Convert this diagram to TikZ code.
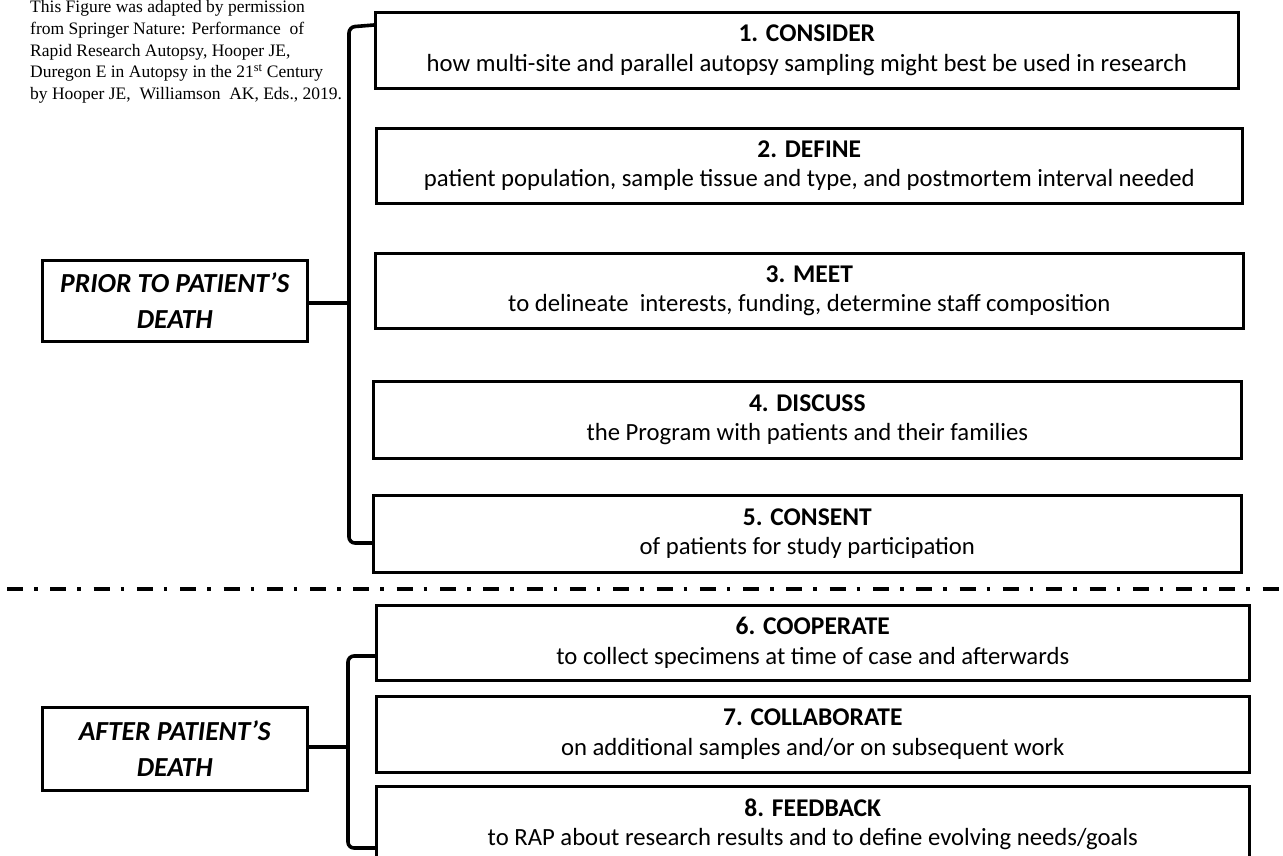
\documentclass[tikz,border=0pt]{standalone}
\usepackage{fontspec}
\setmainfont{Carlito}
\newfontfamily\notefont{Liberation Serif}
\newcommand{\stitle}[1]{{\fontsize{25.5}{29}\selectfont\bfseries #1}}
\begin{document}
\begin{tikzpicture}[x=1pt,y=-1pt,
  stepbox/.style={draw=black, line width=2.6pt, anchor=north west, align=center, inner sep=0pt,
    font=\fontsize{24.7}{29.5}\selectfont},
  phasebox/.style={draw=black, line width=2.6pt, anchor=north west, align=center, inner sep=0pt,
    font=\fontsize{27.5}{36}\selectfont\bfseries\itshape},
  bracket/.style={line width=3.6pt, rounded corners=6pt},
  link/.style={line width=3.4pt}]
\useasboundingbox (0,0) rectangle (1283,855);
\clip (0,0) rectangle (1283,855);

% note
\node[anchor=north west, align=left, inner sep=0pt, font=\notefont\fontsize{17.5}{21.6}\selectfont] (note) at (30,0.5)
  {This Figure was adapted by permission\\
   from Springer Nature: Performance\ \ of\\
   Rapid Research Autopsy, Hooper JE,\\
   Duregon E\ in Autopsy in the 21\textsuperscript{st} Century\\
   by Hooper JE,\ \ Williamson\ \ AK, Eds., 2019.};

% step boxes
\node[stepbox, minimum width=863pt, minimum height=76pt] (b1) at (374,11)
  {\stitle{1. CONSIDER}\\how multi-site and parallel autopsy sampling might best be used in research};
\node[stepbox, minimum width=866pt, minimum height=75pt] (b2) at (375,127)
  {\stitle{2. DEFINE}\\patient population, sample tissue and type, and postmortem interval needed};
\node[stepbox, minimum width=868pt, minimum height=75pt] (b3) at (374,252)
  {\stitle{3. MEET}\\to delineate\ \ interests, funding, determine staff composition};
\node[stepbox, minimum width=868pt, minimum height=77pt] (b4) at (372,380)
  {\stitle{4. DISCUSS}\\the Program with patients and their families};
\node[stepbox, minimum width=868pt, minimum height=77pt] (b5) at (372,494)
  {\stitle{5. CONSENT}\\of patients for study participation};
\node[stepbox, minimum width=873pt, minimum height=75pt] (b6) at (375,604)
  {\stitle{6. COOPERATE}\\to collect specimens at time of case and afterwards};
\node[stepbox, minimum width=873pt, minimum height=76pt] (b7) at (375,695)
  {\stitle{7. COLLABORATE}\\on additional samples and/or on subsequent work};
\node[stepbox, minimum width=873pt, minimum height=76pt] (b8) at (375,785)
  {\stitle{8. FEEDBACK}\\to RAP about research results and to define evolving needs/goals};

% phase boxes
\node[phasebox, minimum width=265pt, minimum height=81pt] (prior) at (41,259)
  {PRIOR TO PATIENT’S\\DEATH};
\node[phasebox, minimum width=265pt, minimum height=83pt] (after) at (41,706)
  {AFTER PATIENT’S\\DEATH};

% brackets
\coordinate (pv) at (349,303);
\coordinate (av) at (348,747);
\draw[bracket] ([yshift=-14pt]b1.north west) -- (349,27) -- (349,543) -- (b5.west |- 0,543);
\draw[link] (prior.east |- pv) -- (pv);
\draw[bracket] ([yshift=-52pt]b6.north west) -- (348,656) -- (348,848) -- (b8.west |- 0,848);
\draw[link] (after.east |- av) -- (av);

% divider
\coordinate (dl) at (7,589);
\coordinate (dr) at (1283,589);
\draw[line width=4pt, dash pattern=on 16pt off 11pt on 3.5pt off 12.8pt] (dl) -- (dr);
\end{tikzpicture}
\end{document}
